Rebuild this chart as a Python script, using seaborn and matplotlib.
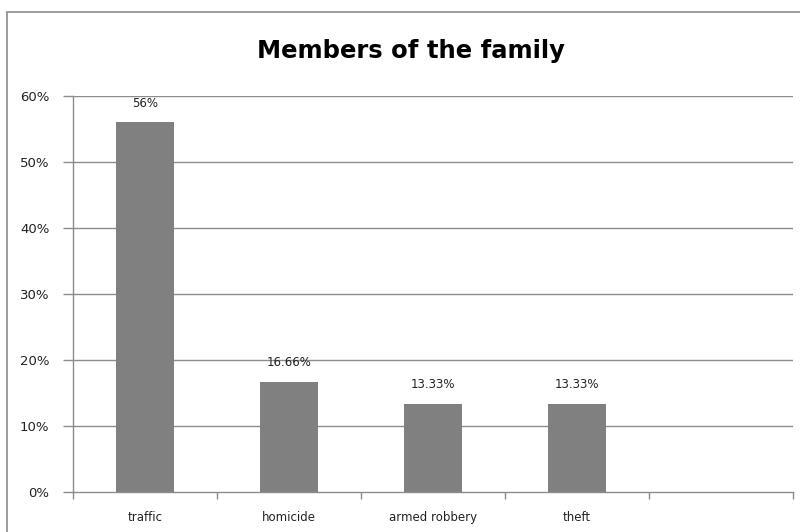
import matplotlib
matplotlib.use("Agg")
import matplotlib.pyplot as plt
import matplotlib.patches as mpatches
import seaborn as sns
import pandas as pd
import numpy as np

categories = ["traffic", "homicide", "armed robbery", "theft"]
values = [56, 16.66, 13.33, 13.33]
value_labels = ["56%", "16.66%", "13.33%", "13.33%"]
y_ticks = [0, 10, 20, 30, 40, 50, 60]
y_tick_labels = ["0%", "10%", "20%", "30%", "40%", "50%", "60%"]

sns.set_theme(style="white")
plt.rcParams["font.family"] = ["DejaVu Sans"]

df = pd.DataFrame({"category": categories, "value": values})

fig = plt.figure(figsize=(8, 5.32), dpi=100)
ax = fig.add_axes([0.09125, 0.0752, 0.9, 0.7443])

grid_color = "#8c8c8c"
text_color = "#222222"
for t in y_ticks[1:]:
    ax.axhline(t, color=grid_color, lw=1, zorder=0)

sns.barplot(data=df, x="category", y="value", order=categories,
            color="#808080", saturation=1, width=0.4, ax=ax, zorder=2,
            edgecolor="none")

for i, (v, lab) in enumerate(zip(values, value_labels)):
    ax.text(i, v + 2.9, lab, ha="center", va="center", fontsize=8.5,
            color=text_color)

ax.set_xlim(-0.5, 4.5)
ax.set_ylim(0, 60)
ax.set_yticks(y_ticks)
ax.set_yticklabels(y_tick_labels, fontsize=9.5, color=text_color)
ax.set_xticks(range(len(categories)))
ax.set_xticklabels(categories, fontsize=8.5, color=text_color)
ax.set_xticks(np.arange(-0.5, 5.0, 1.0), minor=True)
ax.tick_params(axis="x", which="major", length=0, pad=14)
ax.tick_params(axis="x", which="minor", length=5, width=1, color=grid_color,
               direction="out", bottom=True)
ax.tick_params(axis="y", which="major", length=7, width=1, color=grid_color,
               direction="out", left=True, pad=10)
ax.set_xlabel("")
ax.set_ylabel("")

for side in ["top", "right"]:
    ax.spines[side].set_visible(False)
for side in ["left", "bottom"]:
    ax.spines[side].set_color(grid_color)
    ax.spines[side].set_linewidth(1)

fig.text(0.514, 0.905, "Members of the family", ha="center", va="center",
         fontsize=17.5, fontweight="bold", family=["DejaVu Sans"],
         color="black")

border = mpatches.Rectangle((7 / 800, -0.05), 1.0, 1 - 12 / 532 + 0.05,
                            transform=fig.transFigure, fill=False,
                            edgecolor="#8c8c8c", lw=1.2)
fig.patches.append(border)

fig.savefig("out.png", dpi=100)
